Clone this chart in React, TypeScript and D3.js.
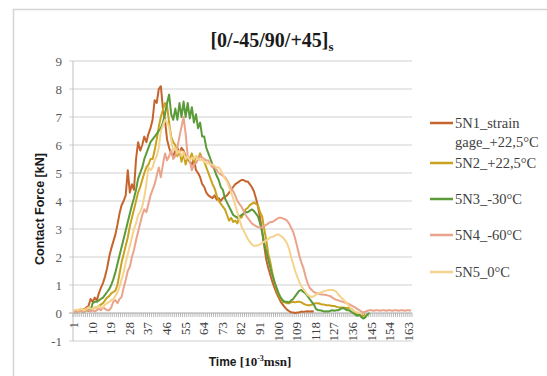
import React from 'react';
import * as d3 from 'd3';

const categories: number[] = Array.from({ length: 164 }, (_, k) => k + 1);
const xTickLabels: number[] = [1, 10, 19, 28, 37, 46, 55, 64, 73, 82, 91, 100, 109, 118, 127, 136, 145, 154, 163];
const yTicks: number[] = [-1, 0, 1, 2, 3, 4, 5, 6, 7, 8, 9];

const s5N1: number[] = [
  0.05, 0.08, 0.1, 0.08, 0.12, 0.1, 0.2, 0.25, 0.5, 0.4,
  0.55, 0.45, 0.7, 0.9, 1.07, 1.3, 1.6, 2.0, 2.3, 2.55,
  2.8, 3.15, 3.55, 3.85, 4.0, 4.2, 5.1, 4.3, 4.6, 4.4,
  5.5, 6.1, 5.8, 6.0, 6.3, 6.1, 6.4, 6.6, 6.9, 7.6,
  7.5, 8.0, 8.1, 7.3, 6.9, 6.2, 5.9, 5.7, 5.6, 5.8,
  5.9, 5.7, 5.9, 5.8, 5.6, 5.5, 5.4, 5.3, 5.5, 5.1,
  5.0, 4.85, 4.6, 4.5, 4.3, 4.2, 4.15, 4.1, 4.2, 4.05,
  4.1, 4.0, 4.1, 4.15, 4.2, 4.3, 4.4, 4.5, 4.6, 4.65,
  4.7, 4.75, 4.75, 4.7, 4.7, 4.6, 4.5, 4.35, 4.1, 3.8,
  3.4, 2.9, 2.4, 1.9, 1.6, 1.35, 1.1, 0.9, 0.7, 0.55,
  0.4, 0.3, 0.2, 0.12, 0.07, 0.03, 0.02, 0.0, 0.02, 0.03,
  0.05, 0.04, 0.05, 0.06, 0.05, 0.06, 0.05,
];

const s5N2: number[] = [
  0.05, 0.1, 0.08, 0.12, 0.1, 0.15, 0.12, 0.1, 0.15, 0.15,
  0.2, 0.2, 0.25, 0.3, 0.35, 0.45, 0.55, 0.6, 0.7, 0.75,
  0.8, 1.0, 1.4, 1.8, 2.1, 2.4, 2.7, 3.1, 3.4, 3.7,
  4.0, 4.3, 4.5, 4.75, 5.0, 5.2, 5.3, 5.5, 5.5, 5.8,
  6.2, 6.65, 7.0, 7.25, 7.5, 7.4, 6.8, 6.3, 6.1, 6.0,
  5.6, 5.8, 5.4, 5.7, 5.3, 5.6, 5.5, 5.7, 5.4, 5.6,
  5.5, 5.7, 5.5, 5.4, 5.2, 5.0, 4.8, 4.6, 4.45, 4.2,
  4.0, 3.9, 3.8, 3.7, 3.5, 3.3, 3.4, 3.25, 3.3, 3.2,
  3.45, 3.4, 3.55, 3.7, 3.75, 3.85, 3.9, 3.95, 3.9, 3.85,
  3.6, 3.45, 3.0, 2.6, 2.1, 1.8, 1.4, 1.1, 0.82, 0.65,
  0.5, 0.4, 0.38, 0.35, 0.35, 0.38, 0.4, 0.38, 0.4, 0.4,
  0.38, 0.33, 0.3, 0.28, 0.28, 0.3, 0.33, 0.35, 0.35, 0.33,
  0.3, 0.3, 0.28, 0.28, 0.27, 0.25, 0.25, 0.22, 0.2, 0.2,
  0.2, 0.19, 0.18, 0.18, 0.15, 0.1, 0.02, -0.05, -0.08, -0.1,
  -0.1, -0.05,
];

const s5N3: number[] = [
  0.05, 0.03, 0.05, 0.08, 0.05, 0.05, 0.1, 0.08, 0.1, 0.35,
  0.4, 0.4, 0.45, 0.5, 0.55, 0.65, 0.75, 0.85, 1.0, 1.2,
  1.45, 1.75, 2.05, 2.35, 2.65, 2.95, 3.25, 3.55, 3.85, 4.1,
  4.4, 4.8, 5.0, 5.2, 5.5, 5.7, 5.9, 6.1, 6.2, 6.3,
  6.4, 6.5, 6.6, 6.8, 7.1, 7.5, 7.8, 7.1, 6.9, 7.3,
  6.9, 7.5, 7.0, 7.55, 7.0, 7.5, 6.95, 7.35, 6.8, 7.1,
  6.6, 6.8, 6.3, 6.3, 5.9, 5.7, 5.5, 5.3, 5.1, 4.9,
  4.75, 4.5, 4.4, 4.1, 3.95, 3.8, 3.65, 3.5, 3.45, 3.4,
  3.45, 3.5, 3.55, 3.6, 3.6, 3.65, 3.7, 3.65, 3.55, 3.45,
  3.2, 2.9, 2.5, 2.2, 1.9, 1.6, 1.35, 1.1, 0.9, 0.7,
  0.55, 0.45, 0.4, 0.4, 0.38, 0.45, 0.5, 0.6, 0.7, 0.8,
  0.82, 0.75, 0.7, 0.6, 0.5, 0.4, 0.3, 0.15, 0.1, 0.1,
  0.08, 0.05, 0.06, 0.05, 0.08, 0.1, 0.08, 0.1, 0.1, 0.15,
  0.18, 0.15, 0.1, 0.1, 0.05, 0.0, -0.05, -0.1, -0.05, -0.15,
  -0.2, -0.15, -0.05, 0.0,
];

const s5N4: number[] = [
  0.05, 0.03, 0.05, 0.08, 0.05, 0.05, 0.1, 0.1, 0.05, 0.1,
  0.05, 0.1, 0.15, 0.1, 0.2, 0.15, 0.1, 0.1, 0.2, 0.4,
  0.46, 0.35, 0.5, 0.57, 0.9, 1.18, 1.5, 1.65, 2.0, 2.25,
  2.6, 2.9, 3.2, 3.5, 3.7, 3.6, 3.9, 4.2, 4.4, 4.6,
  4.9, 5.2, 4.85, 5.3, 5.7, 5.45, 5.6, 5.8, 5.5, 5.6,
  5.9, 6.3, 6.65, 7.0, 6.4, 5.6, 5.45, 5.1, 5.3, 5.35,
  5.5, 5.6, 5.55, 5.5, 5.45, 5.45, 5.3, 5.2, 5.2, 5.1,
  5.0, 4.95, 4.9, 4.85, 4.75, 4.6, 4.45, 4.35, 4.2, 4.0,
  3.9, 3.8, 3.65, 3.5, 3.4, 3.3, 3.2, 3.15, 3.1, 3.07,
  3.05, 3.05, 3.1, 3.15, 3.2, 3.25, 3.25, 3.3, 3.35, 3.4,
  3.4, 3.38, 3.35, 3.3, 3.2, 3.05, 2.9, 2.65, 2.36, 2.05,
  1.8, 1.6, 1.3, 1.07, 0.9, 0.82, 0.75, 0.72, 0.7, 0.67,
  0.66, 0.65, 0.64, 0.62, 0.6, 0.55, 0.5, 0.47, 0.45, 0.42,
  0.4, 0.37, 0.35, 0.32, 0.28, 0.24, 0.2, 0.15, 0.1, 0.05,
  0.02, 0.05, 0.08, 0.1, 0.1, 0.08, 0.1, 0.1, 0.08, 0.1,
  0.1, 0.08, 0.1, 0.1, 0.08, 0.1, 0.1, 0.08, 0.1, 0.1,
  0.08, 0.1, 0.1, 0.08,
];

const s5N5: number[] = [
  0.1, 0.12, 0.1, 0.15, 0.12, 0.1, 0.15, 0.2, 0.15, 0.15,
  0.2, 0.2, 0.25, 0.2, 0.2, 0.3, 0.35, 0.4, 0.45, 0.5,
  0.6, 0.75, 0.93, 1.2, 1.45, 1.8, 2.1, 2.4, 2.7, 3.0,
  3.2, 3.5, 3.6, 3.8, 4.15, 4.6, 5.2, 5.1, 5.2, 5.45,
  5.6, 5.9, 6.5, 6.7, 6.9, 6.8, 6.65, 6.2, 5.8, 5.9,
  5.7, 5.8, 5.6, 5.75, 5.5, 5.6, 5.45, 5.55, 5.5, 5.6,
  5.5, 5.45, 5.5, 5.4, 5.35, 5.35, 5.3, 5.3, 5.25, 5.2,
  5.2, 5.1, 4.95, 4.8, 4.7, 4.5, 4.3, 4.1, 3.85, 3.6,
  3.35, 3.1, 2.95, 2.8, 2.65, 2.55, 2.45, 2.4, 2.4, 2.42,
  2.45, 2.5, 2.55, 2.6, 2.65, 2.7, 2.72, 2.75, 2.8, 2.8,
  2.75, 2.7, 2.6, 2.5, 2.3, 2.0, 1.75, 1.5, 1.3, 1.1,
  0.95, 0.85, 0.75, 0.65, 0.6, 0.57, 0.6, 0.65, 0.7, 0.72,
  0.75, 0.78, 0.8, 0.82, 0.82, 0.82, 0.8, 0.75, 0.65, 0.57,
  0.5, 0.42, 0.35, 0.25, 0.15, 0.1, 0.05, 0.02, 0, 0,
];

const seriesNames: string[][] = [
  ['5N1_strain', 'gage_+22,5°C'],
  ['5N2_+22,5°C'],
  ['5N3_-30°C'],
  ['5N4_-60°C'],
  ['5N5_0°C'],
];
const seriesData: number[][] = [s5N1, s5N2, s5N3, s5N4, s5N5];
const seriesColors: string[] = ['#c5652d', '#c9a320', '#5b9b3a', '#eba48c', '#f6d38d'];
const legendY: number[] = [123, 163, 199, 235, 272];

const W = 547;
const H = 376;
const plot = { left: 73, right: 412, top: 61, bottom: 341 };

export default function App() {
  const x = d3.scaleBand<number>().domain(categories).range([plot.left, plot.right]).paddingInner(0).paddingOuter(0);
  const bw = x.bandwidth();
  const cx = (c: number) => (x(c) as number) + bw / 2;
  const y = d3.scaleLinear().domain([-1, 9]).range([plot.bottom, plot.top]);
  const line = d3
    .line<number>()
    .x((_, i) => cx(categories[i]))
    .y((d) => y(d));

  const serif = '"Liberation Serif", "Times New Roman", serif';
  const sans = '"Liberation Sans", Arial, sans-serif';
  const y0 = y(0);

  return (
    <svg width={W} height={H} style={{ position: 'absolute', left: 0, top: 0, background: '#fff' }}>
      <rect x={0} y={0} width={W} height={H} fill="#fff" />
      <rect x={13.5} y={9.5} width={W} height={H} fill="none" stroke="#d4d4d4" strokeWidth={1.5} />

      <text x={272} y={47} textAnchor="middle" fontFamily={serif} fontWeight="bold" fontSize={20} fill="#1a1a1a">
        [0/-45/90/+45]
        <tspan fontSize={13} dy={4}>s</tspan>
      </text>

      {/* gridlines */}
      {yTicks.map((t) => (
        <line key={'g' + t} x1={plot.left - 4} x2={plot.right} y1={y(t)} y2={y(t)} stroke={t === 0 ? '#a6a6a6' : '#d0d0d0'} strokeWidth={1} />
      ))}
      <line x1={plot.left} x2={plot.left} y1={plot.top} y2={plot.bottom} stroke="#bfbfbf" strokeWidth={1} />

      {/* y labels */}
      {yTicks.map((t) => (
        <text key={'yl' + t} x={62} y={y(t)} dy="0.35em" textAnchor="end" fontFamily={serif} fontSize={13} fill="#595959">
          {t}
        </text>
      ))}

      {/* x ticks */}
      {categories.concat([categories.length + 1]).map((c) => {
        const xx = c <= categories.length ? (x(c) as number) : plot.right;
        return <line key={'xt' + c} x1={xx} x2={xx} y1={y0} y2={y0 + 4} stroke="#a6a6a6" strokeWidth={0.8} />;
      })}

      {/* x labels */}
      {xTickLabels.map((c) => (
        <text
          key={'xl' + c}
          transform={`translate(${cx(c) + 4},${y0 + 9}) rotate(-90)`}
          textAnchor="end"
          fontFamily={serif}
          fontSize={13}
          fill="#404040"
        >
          {c}
        </text>
      ))}

      {/* series */}
      {seriesData.map((d, k) => (
        <path key={'s' + k} d={line(d) || ''} fill="none" stroke={seriesColors[k]} strokeWidth={2} strokeLinejoin="round" />
      ))}

      {/* axis titles */}
      <text transform={`translate(44,${(plot.top + plot.bottom) / 2 + 8}) rotate(-90)`} textAnchor="middle" fontFamily={sans} fontWeight="bold" fontSize={12.5} fill="#1a1a1a">
        Contact Force [kN]
      </text>
      <text x={250} y={366} textAnchor="middle" fill="#1a1a1a" fontWeight="bold">
        <tspan fontFamily={sans} fontSize={12}>Time </tspan>
        <tspan fontFamily={serif} fontSize={13}>[10</tspan>
        <tspan fontFamily={serif} fontSize={8} dy={-5}>-3</tspan>
        <tspan fontFamily={serif} fontSize={13} dy={5}>msn]</tspan>
      </text>

      {/* legend */}
      {seriesNames.map((names, k) => (
        <g key={'lg' + k}>
          <line x1={430} x2={453} y1={legendY[k]} y2={legendY[k]} stroke={seriesColors[k]} strokeWidth={2.5} />
          {names.map((n, j) => (
            <text key={j} x={455} y={legendY[k] + 4.5 + j * 19} fontFamily={serif} fontSize={14.5} fill="#404040">
              {n}
            </text>
          ))}
        </g>
      ))}
    </svg>
  );
}
